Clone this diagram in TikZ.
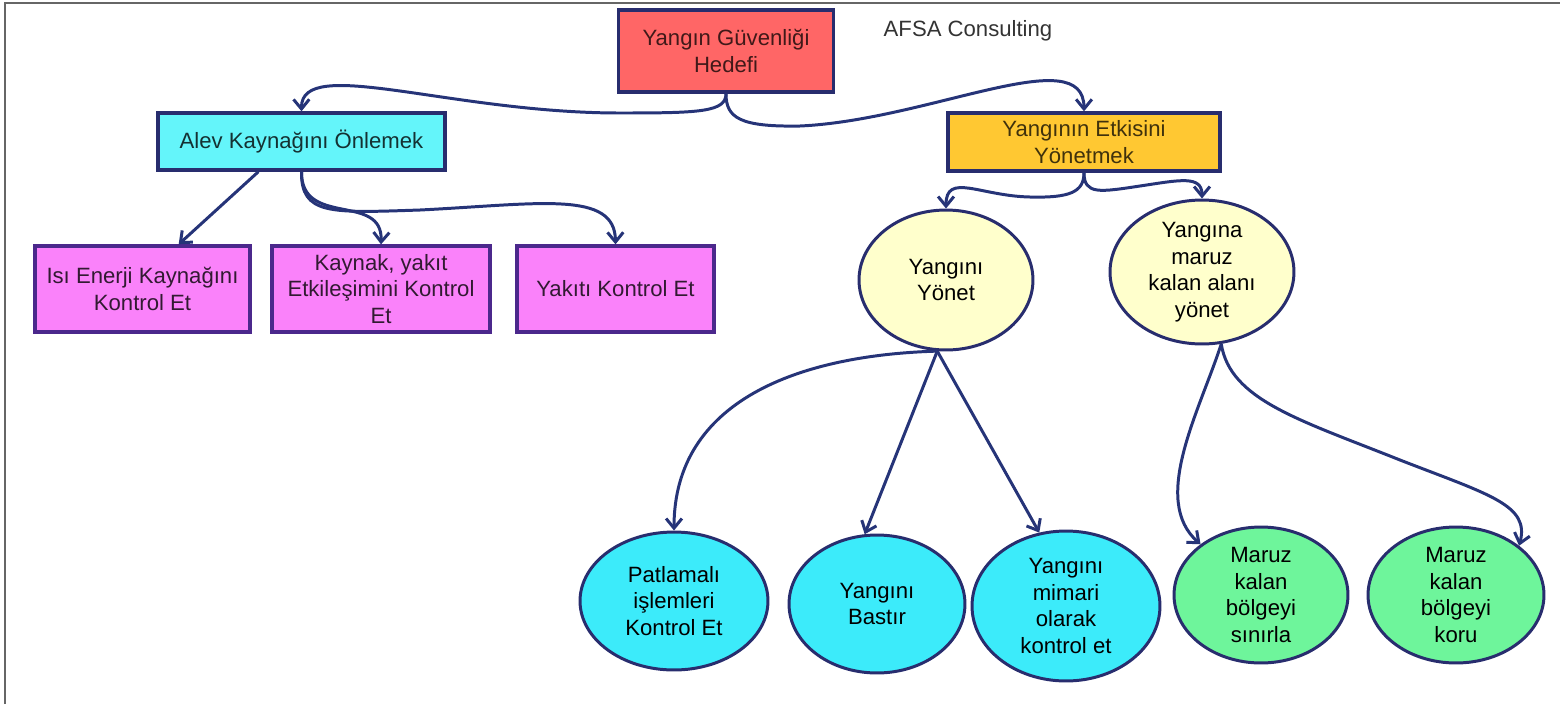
\documentclass[tikz,border=0pt]{standalone}
\usepackage{fontspec}
\setmainfont{Liberation Sans}
\usetikzlibrary{shapes.geometric,arrows.meta}

\definecolor{kenar}{RGB}{40,45,110}
\definecolor{mor}{RGB}{75,40,140}
\definecolor{okrenk}{RGB}{38,52,120}
\definecolor{kirmizi}{RGB}{255,102,102}
\definecolor{camgobegi}{RGB}{100,245,250}
\definecolor{turuncu}{RGB}{255,200,50}
\definecolor{pembe}{RGB}{250,130,250}
\definecolor{sari}{RGB}{255,255,204}
\definecolor{mavi}{RGB}{60,235,250}
\definecolor{yesil}{RGB}{110,245,155}
\newcommand{\yazi}{\fontsize{12.6}{15.1}\selectfont}

\begin{document}
\begin{tikzpicture}[x=0.02cm, y=-0.02cm,
    kutu/.style={rectangle, draw=kenar, line width=1.9pt, align=center, font=\yazi, inner sep=0pt},
    altkutu/.style={kutu, fill=pembe, draw=mor, text=pembe!20!black, minimum height=1.72cm},
    elips/.style={ellipse, draw=kenar, line width=1.7pt, align=center, font=\yazi, inner sep=0pt},
    ok/.style={-{Straight Barb[length=5.5pt,width=9pt]}, line width=1.7pt, draw=okrenk}
]
    \useasboundingbox (0,0) rectangle (1560,704);
    \draw[line width=1.1pt, black!60] (5,704) |- (1560,3);

    % Kutular
    \node[kutu, fill=kirmizi, text=kirmizi!25!black, minimum width=4.3cm, minimum height=1.64cm] (hedef) at (726,51) {Yangın Güvenliği\\Hedefi};
    \node[font=\yazi, text=black!80] (afsa) at (968,31) {AFSA Consulting};
    \node[kutu, fill=camgobegi, text=camgobegi!20!black, minimum width=5.74cm, minimum height=1.14cm] (alev) at (301.5,141.5) {Alev Kaynağını Önlemek};
    \node[kutu, fill=turuncu, text=turuncu!25!black, minimum width=5.44cm, minimum height=1.16cm] (etki) at (1084,142) {Yangının Etkisini\\Yönetmek};
    \node[altkutu, minimum width=4.3cm] (isi) at (142.5,289) {Isı Enerji Kaynağını\\Kontrol Et};
    \node[altkutu, minimum width=4.36cm] (kaynak) at (381,289) {Kaynak, yakıt\\Etkileşimini Kontrol\\Et};
    \node[altkutu, minimum width=3.94cm] (yakit) at (615.5,289) {Yakıtı Kontrol Et};

    % Elipsler
    \node[elips, fill=sari, minimum width=3.48cm, minimum height=2.8cm] (yonet) at (946,280) {Yangını\\Yönet};
    \node[elips, fill=sari, minimum width=3.68cm, minimum height=2.88cm] (maruz) at (1202,272) {Yangına\\maruz\\kalan alanı\\yönet};
    \node[elips, fill=mavi, minimum width=3.76cm, minimum height=2.76cm] (patlama) at (674,601) {Patlamalı\\işlemleri\\Kontrol Et};
    \node[elips, fill=mavi, minimum width=3.52cm, minimum height=2.76cm] (bastir) at (877,604) {Yangını\\Bastır};
    \node[elips, fill=mavi, minimum width=3.76cm, minimum height=3.0cm] (mimari) at (1066,606) {Yangını\\mimari\\olarak\\kontrol et};
    \node[elips, fill=yesil, minimum width=3.48cm, minimum height=2.72cm] (sinirla) at (1261,595) {Maruz\\kalan\\bölgeyi\\sınırla};
    \node[elips, fill=yesil, minimum width=3.52cm, minimum height=2.72cm] (koru) at (1456,595) {Maruz\\kalan\\bölgeyi\\koru};

    % Oklar
    \draw[ok] (hedef.south) .. controls (726,112) and (700,113) .. (620,113) .. controls (450,113) and (301,55) .. (alev.north);
    \draw[ok] (hedef.south) .. controls (726,118) and (740,127) .. (800,126) .. controls (930,120) and (1084,40) .. (etki.north);
    \draw[ok] (alev.215) -- (isi.51);
    \draw[ok] (alev.south) .. controls (301,228) and (383,192) .. (kaynak.north);
    \draw[ok] (alev.south) .. controls (301,215) and (330,213) .. (420,210) .. controls (540,204) and (615,190) .. (yakit.north);
    \draw[ok] (etki.south) .. controls (1084,192) and (1070,198) .. (1030,197) .. controls (980,196) and (946,172) .. (yonet.north);
    \draw[ok] (etki.south) .. controls (1084,195) and (1100,192) .. (1140,186) .. controls (1180,180) and (1202,175) .. (maruz.north);
    \draw[ok] (yonet.263) .. controls (800,355) and (674,400) .. (patlama.north);
    \draw[ok] (yonet.263) -- (bastir.100);
    \draw[ok] (yonet.263) -- (mimari.110);
    \draw[ok] (maruz.285) .. controls (1200,410) and (1150,500) .. (sinirla.140);
    \draw[ok] (maruz.285) .. controls (1230,400) and (1300,420) .. (1400,460) .. controls (1490,495) and (1530,505) .. (koru.38);
\end{tikzpicture}
\end{document}
